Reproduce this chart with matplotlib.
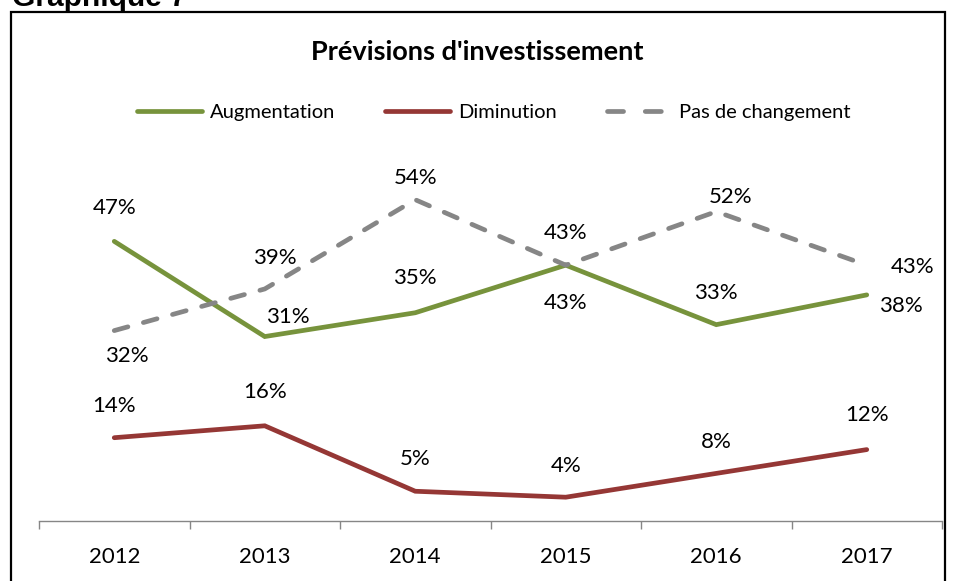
import matplotlib
matplotlib.use("Agg")
import matplotlib.pyplot as plt
from matplotlib.patches import Rectangle
from matplotlib.lines import Line2D

years = ["2012", "2013", "2014", "2015", "2016", "2017"]
augmentation = [47, 31, 35, 43, 33, 38]
diminution = [14, 16, 5, 4, 8, 12]
pas_changement = [32, 39, 54, 43, 52, 43]

W, H = 957, 581
fig = plt.figure(figsize=(W / 100, H / 100), dpi=100)
FONT = "Lato"

def fx(px):
    return px / W

def fy(py):
    return 1 - py / H

# outer frame
fig.patches.append(Rectangle((fx(10.5), fy(600)), fx(945) - fx(10.5), fy(12.5) - fy(600),
                             transform=fig.transFigure, fill=False, edgecolor="black",
                             linewidth=1.6, clip_on=False))
fig.text(fx(12), fy(6), "Graphique 7", fontsize=21.5, fontweight="bold",
         family="Liberation Sans", va="baseline", ha="left")

ax = fig.add_axes([fx(39), fy(521), fx(942) - fx(39), fy(164) - fy(521)])
x = list(range(len(years)))
green, red, grey = "#77933C", "#953735", "#868686"
ax.plot(x, augmentation, color=green, lw=3.4, solid_capstyle="round",
        solid_joinstyle="miter", clip_on=False)
ax.plot(x, diminution, color=red, lw=3.4, solid_capstyle="round",
        solid_joinstyle="miter", clip_on=False)
ax.plot(x, pas_changement, color=grey, lw=3.4, dashes=(3.0, 3.4),
        dash_capstyle="round", clip_on=False)
ax.set_xlim(-0.5, 5.5)
ax.set_ylim(0, 60)

for s in ["top", "right", "left"]:
    ax.spines[s].set_visible(False)
ax.spines["bottom"].set_color("#868686")
ax.spines["bottom"].set_linewidth(1)
ax.set_yticks([])
ax.set_xticks([i - 0.5 for i in range(len(years) + 1)])
ax.set_xticklabels([])
ax.tick_params(axis="x", which="major", length=6, color="#868686", width=1)
ax.set_xticks(x, minor=True)
ax.set_xticklabels(years, minor=True, fontsize=16, family=FONT)
ax.tick_params(axis="x", which="minor", length=0, pad=19)

def lab(i, v, dx, dy):
    ax.annotate(f"{v}%", (i, v), xytext=(dx, dy), textcoords="offset pixels",
                ha="center", va="center", fontsize=16, family=FONT, annotation_clip=False)

aug_off = [(0, 33), (23, 20), (0, 35), (0, -38), (0, 32), (34, -11)]
dim_off = [(0, 32), (0, 34), (0, 32), (0, 31), (0, 31), (0, 35)]
pas_off = [(13, -25), (10, 31), (0, 22), (0, 32), (14, 15), (46, -2)]
for i in x:
    lab(i, augmentation[i], aug_off[i][0], aug_off[i][1])
    lab(i, diminution[i], dim_off[i][0], dim_off[i][1])
    lab(i, pas_changement[i], pas_off[i][0], pas_off[i][1])

fig.text(fx(477), fy(52), "Prévisions d'investissement", fontsize=19.5,
         fontweight="bold", family=FONT, ha="center", va="center")

handles = [Line2D([], [], color=green, lw=3.4, solid_capstyle="round"),
           Line2D([], [], color=red, lw=3.4, solid_capstyle="round"),
           Line2D([], [], color=grey, lw=3.4, dashes=(3.4, 4.6), dash_capstyle="round")]
fig.legend(handles, ["Augmentation", "Diminution", "Pas de changement"],
           loc="center", bbox_to_anchor=(fx(494), fy(112)), ncol=3, frameon=False,
           prop={"family": FONT, "size": 14.5}, handlelength=3.2, handletextpad=0.4,
           columnspacing=2.5)

fig.savefig("out.png", dpi=100)
